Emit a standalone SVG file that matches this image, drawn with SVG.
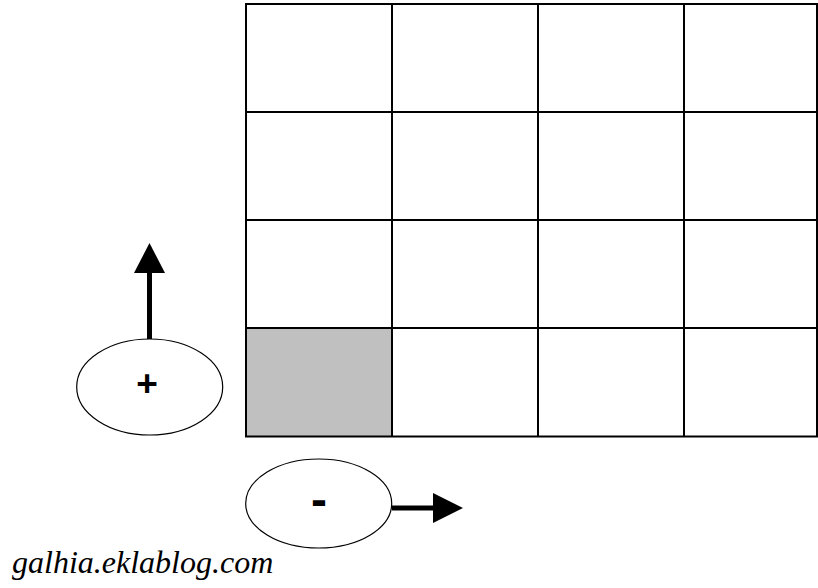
<svg xmlns="http://www.w3.org/2000/svg" width="818" height="588" viewBox="0 0 818 588">
<defs>
<style>
.grid{fill:none;stroke:#000;stroke-width:2}
.ell{fill:#fff;stroke:#000;stroke-width:1.2}
.shaft{stroke:#000;stroke-width:5}
</style>
</defs>
<rect width="818" height="588" fill="#fff"/>
<g id="grid">
<rect x="246" y="328" width="146" height="108.5" fill="#c0c0c0"/>
<rect class="grid" x="246" y="4" width="571" height="432.5"/>
<line class="grid" x1="392" y1="4" x2="392" y2="436.5"/>
<line class="grid" x1="538" y1="4" x2="538" y2="436.5"/>
<line class="grid" x1="684" y1="4" x2="684" y2="436.5"/>
<line class="grid" x1="246" y1="112" x2="817" y2="112"/>
<line class="grid" x1="246" y1="220" x2="817" y2="220"/>
<line class="grid" x1="246" y1="328" x2="817" y2="328"/>
</g>
<g id="connectors">
<line class="shaft" x1="149.5" y1="339" x2="149.5" y2="272"/>
<polygon points="134,273 165,273 149.5,243"/>
<line class="shaft" x1="392" y1="508" x2="434" y2="508"/>
<polygon points="433,493 433,523 463,508"/>
</g>
<g id="plus">
<ellipse class="ell" cx="149.7" cy="387" rx="73" ry="48"/>
<text x="147" y="395.5" font-family="Liberation Sans, Arial, sans-serif" font-weight="bold" font-size="37" text-anchor="middle">+</text>
</g>
<g id="minus">
<ellipse class="ell" cx="318.7" cy="503.5" rx="73" ry="44.5"/>
<text x="319" y="515.5" font-family="Liberation Sans, Arial, sans-serif" font-weight="bold" font-size="48" text-anchor="middle">-</text>
</g>
<text id="credit" x="12" y="573" font-family="Liberation Serif, Times New Roman, serif" font-style="italic" font-size="32">galhia.eklablog.com</text>
</svg>
